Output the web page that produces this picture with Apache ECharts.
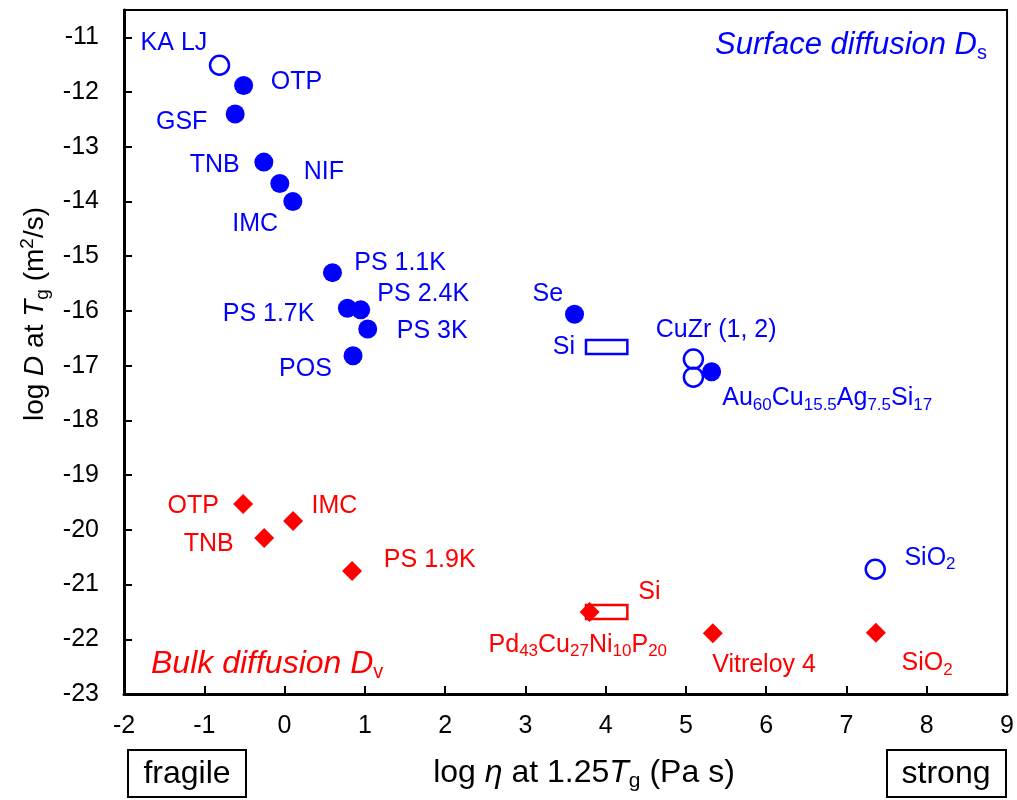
<!DOCTYPE html>
<html>
<head>
<meta charset="utf-8">
<script src="https://cdn.jsdelivr.net/npm/echarts@6/dist/echarts.min.js"></script>
<style>
html,body{margin:0;padding:0;background:#fff;}
#main{width:1017px;height:800px;}
</style>
</head>
<body>
<div id="main"></div>
<script>
// 表面扩散 实心圆
var surfFilled = [[-0.51,-11.88],[-0.615,-12.40],[-0.258,-13.28],[-0.059,-13.67],[0.103,-14.00],
	[0.597,-15.30],[0.783,-15.95],[0.949,-15.98],[1.036,-16.33],[0.853,-16.82],[3.612,-16.06],[5.32,-17.11]];
// 表面扩散 空心圆 (KA LJ, CuZr 1, CuZr 2, SiO2)
var surfOpen = [[-0.81,-11.51],[5.093,-16.88],[5.093,-17.21],[7.358,-20.72]];
// 体扩散 菱形
var bulk = [[-0.516,-19.53],[0.107,-19.84],[-0.254,-20.15],[0.841,-20.75],[3.80,-21.50],[5.335,-21.89],[7.366,-21.88]];
// Si 范围 [x0, x1, y]
var siSurf = [[3.755,4.27,-16.66]];
var siBulk = [[3.755,4.27,-21.50]];
// 文字标注 [x, y, text]
var labelsSurf = [[-1.378,-11.10,'KA LJ'],[0.149,-11.82,'OTP'],[-1.282,-12.54,'GSF'],[-0.871,-13.34,'TNB'],
	[0.489,-13.46,'NIF'],[-0.366,-14.41,'IMC'],[1.439,-15.12,'PS 1.1K'],[1.727,-15.69,'PS 2.4K'],
	[-0.199,-16.05,'PS 1.7K'],[1.839,-16.36,'PS 3K'],[0.261,-17.07,'POS'],[3.28,-15.69,'Se'],
	[3.48,-16.66,'Si'],[5.376,-16.35,'CuZr (1, 2)'],[6.76,-17.60,'Au{sub|60}Cu{sub|15.5}Ag{sub|7.5}Si{sub|17}'],
	[8.04,-20.52,'SiO{sub|2}']];
var labelsBulk = [[-1.138,-19.57,'OTP'],[0.622,-19.57,'IMC'],[-0.945,-20.26,'TNB'],[1.808,-20.56,'PS 1.9K'],
	[4.545,-21.13,'Si'],[3.653,-22.10,'Pd{sub|43}Cu{sub|27}Ni{sub|10}P{sub|20}'],[5.973,-22.47,'Vitreloy 4'],
	[8.005,-22.44,'SiO{sub|2}']];

var BLUE = '#0000ff', RED = '#ff0000';
var FONT = 'Liberation Sans, Arial, sans-serif';

function labelSeries(data, color) { //只显示文字的散点
	return {
		type: 'scatter',
		silent: true,
		z: 5,
		symbolSize: 1,
		itemStyle: { color: 'transparent', opacity: 1 },
		data: data.map(function(d) {
			return { value: [d[0], d[1]], label: { formatter: d[2] } };
		}),
		label: {
			show: true,
			position: 'inside',
			color: color,
			opacity: 1,
			fontSize: 25,
			fontFamily: FONT,
			lineHeight: 30,
			rich: {
				sub: { color: color, fontSize: 17, fontFamily: FONT, lineHeight: 14, verticalAlign: 'bottom' }
			}
		}
	};
}

function siSeries(data, color) { //Si 矩形
	return {
		type: 'custom',
		data: data,
		encode: { x: [0, 1], y: 2 },
		renderItem: function(params, api) {
			var p0 = api.coord([api.value(0), api.value(2)]);
			var p1 = api.coord([api.value(1), api.value(2)]);
			return {
				type: 'rect',
				shape: { x: p0[0], y: p0[1] - 7, width: p1[0] - p0[0], height: 14 },
				style: { fill: 'none', stroke: color, lineWidth: 2.5 }
			};
		}
	};
}

var myChart = echarts.init(document.getElementById('main'));
var richY = {
	i: { fontStyle: 'italic', fontSize: 28, fontFamily: FONT, fill: '#000' },
	sub: { fontSize: 19, fontFamily: FONT, fill: '#000', lineHeight: 16, verticalAlign: 'bottom' },
	sup: { fontSize: 19, fontFamily: FONT, fill: '#000', lineHeight: 16, verticalAlign: 'top' }
};
var richX = {
	i: { fontStyle: 'italic', fontSize: 32, fontFamily: FONT, fill: '#000' },
	sub: { fontSize: 21, fontFamily: FONT, fill: '#000', lineHeight: 16, verticalAlign: 'bottom' }
};
var option = {
	animation: false,
	textStyle: { fontFamily: FONT },
	grid: {
		left: 124, right: 9, top: 10, bottom: 106,
		show: true, borderColor: '#000', borderWidth: 2
	},
	xAxis: {
		type: 'value', min: -2, max: 9, interval: 1,
		axisLine: { onZero: false, lineStyle: { color: '#000', width: 3 } },
		axisTick: { inside: true, length: 8, lineStyle: { color: '#000', width: 2 } },
		axisLabel: { color: '#000', fontSize: 25, margin: 20 },
		splitLine: { show: false }
	},
	yAxis: {
		type: 'value', min: -23, max: -10.5, interval: 1,
		axisLine: { onZero: false, lineStyle: { color: '#000', width: 3 } },
		axisTick: { inside: true, length: 8, lineStyle: { color: '#000', width: 2 } },
		axisLabel: { color: '#000', fontSize: 25, margin: 25, showMaxLabel: false },
		splitLine: { show: false }
	},
	series: [
		siSeries(siSurf, BLUE),
		siSeries(siBulk, RED),
		{
			type: 'scatter', data: surfOpen, symbol: 'circle', symbolSize: 19,
			itemStyle: { color: 'transparent', borderColor: BLUE, borderWidth: 2.5, opacity: 1 }
		},
		{
			type: 'scatter', data: surfFilled, symbol: 'circle', symbolSize: 19,
			itemStyle: { color: BLUE, opacity: 1 }
		},
		{
			type: 'scatter', data: bulk, symbol: 'diamond', symbolSize: 20,
			itemStyle: { color: RED, opacity: 1 }
		},
		labelSeries(labelsSurf, BLUE),
		labelSeries(labelsBulk, RED)
	],
	graphic: [
		{ //y轴标题
			type: 'text', x: 35, y: 314, rotation: Math.PI / 2,
			style: {
				text: 'log {i|D} at {i|T}{sub|g} (m{sup|2}/s)', fontSize: 28, fontFamily: FONT, fill: '#000',
				align: 'center', verticalAlign: 'middle', lineHeight: 34, rich: richY
			}
		},
		{ //x轴标题
			type: 'text', x: 584, y: 773,
			style: {
				text: 'log {i|η} at 1.25{i|T}{sub|g} (Pa s)', fontSize: 32, fontFamily: FONT, fill: '#000',
				align: 'center', verticalAlign: 'middle', lineHeight: 38, rich: richX
			}
		},
		{
			type: 'text', x: 987, y: 45,
			style: {
				text: 'Surface diffusion D{s|s}', fontSize: 31, fontStyle: 'italic', fontFamily: FONT, fill: BLUE,
				align: 'right', verticalAlign: 'middle', lineHeight: 36,
				rich: { s: { fontSize: 20, fontFamily: FONT, fill: BLUE, lineHeight: 16, verticalAlign: 'bottom' } }
			}
		},
		{
			type: 'text', x: 151, y: 664,
			style: {
				text: 'Bulk diffusion D{s|v}', fontSize: 32, fontStyle: 'italic', fontFamily: FONT, fill: RED,
				align: 'left', verticalAlign: 'middle', lineHeight: 36,
				rich: { s: { fontSize: 20, fontFamily: FONT, fill: RED, lineHeight: 16, verticalAlign: 'bottom' } }
			}
		},
		{ type: 'rect', shape: { x: 128, y: 750, width: 118, height: 47 }, style: { fill: 'none', stroke: '#000', lineWidth: 2 } },
		{ type: 'text', x: 187, y: 774, style: { text: 'fragile', fontSize: 32, fontFamily: FONT, fill: '#000', align: 'center', verticalAlign: 'middle' } },
		{ type: 'rect', shape: { x: 887, y: 750, width: 119, height: 47 }, style: { fill: 'none', stroke: '#000', lineWidth: 2 } },
		{ type: 'text', x: 946, y: 774, style: { text: 'strong', fontSize: 32, fontFamily: FONT, fill: '#000', align: 'center', verticalAlign: 'middle' } }
	]
};
myChart.setOption(option);
window.addEventListener("resize", function() {
	myChart.resize();
})
</script>
</body>
</html>
